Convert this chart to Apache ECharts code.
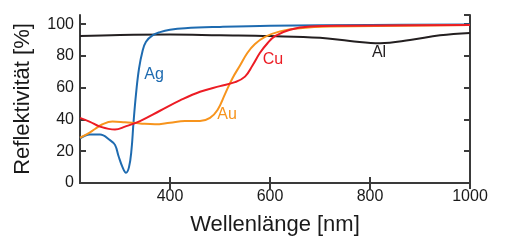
<!DOCTYPE html>
<html>
<head>
<meta charset="utf-8">
<script src="https://cdn.jsdelivr.net/npm/echarts@6/dist/echarts.min.js"></script>
<style>
  html, body { margin: 0; padding: 0; background: #fff; }
  #chart { width: 508px; height: 244px; }
</style>
</head>
<body>
<div id="chart"></div>
<script>
// wavelengths [nm] and reflectivity [%]
var agNm  = [220, 240, 260, 280, 290, 297, 305, 312, 318, 323, 327, 332, 338, 345, 352, 365, 380, 400, 430, 500, 600, 800, 1000];
var agVal = [28, 30.5, 30.5, 27, 24, 17, 10, 6.5, 10, 21, 38, 56, 72, 83, 89, 93, 95, 96.5, 97.5, 98.3, 99, 99.5, 99.8];

var auNm  = [220, 235, 250, 265, 285, 310, 340, 370, 400, 430, 460, 480, 495, 510, 525, 540, 555, 570, 590, 620, 660, 720, 1000];
var auVal = [28.5, 31, 34, 37, 38.7, 38.2, 37.5, 37, 38, 39, 39, 41, 46, 56, 66, 74, 82, 87.5, 92, 95.5, 97.5, 98.5, 99.5];

var cuNm  = [220, 240, 260, 290, 310, 340, 380, 420, 460, 500, 530, 550, 565, 580, 595, 610, 640, 680, 750, 1000];
var cuVal = [41, 38.5, 35.5, 33.7, 35.5, 39, 45.5, 52, 57.5, 61, 63.5, 67, 74, 82, 88, 92.5, 96.5, 98.5, 99, 99.5];

var alNm  = [220, 300, 400, 500, 600, 700, 760, 820, 880, 940, 1000];
var alVal = [92.5, 93.2, 93.5, 93, 92.5, 91.5, 89.5, 88, 90, 93, 94.5];

var xTicks = [400, 600, 800, 1000];

// label anchors [nm, %]
var labels = [
  { name: 'Ag', at: [368, 68] },
  { name: 'Au', at: [514, 43] },
  { name: 'Cu', at: [606, 78] },
  { name: 'Al', at: [818, 82] }
];

var colors = { Ag: '#1e6bb0', Au: '#f7941d', Cu: '#ec1c24', Al: '#231f20' };

function pairs(xs, ys) {
  return xs.map(function (x, i) { return [x, ys[i]]; });
}

function labelPoint(name) {
  var l = labels.filter(function (d) { return d.name === name; })[0];
  return {
    symbol: 'circle',
    symbolSize: 1,
    itemStyle: { color: 'rgba(0,0,0,0)' },
    label: { show: true, position: 'inside', formatter: name, color: colors[name], fontSize: 16, fontFamily: 'Liberation Sans' },
    data: [{ coord: l.at }]
  };
}

function lineSeries(name, xs, ys) {
  return {
    name: name,
    type: 'line',
    data: pairs(xs, ys),
    smooth: 0.4,
    showSymbol: false,
    lineStyle: { color: colors[name], width: 2 },
    animation: false,
    markPoint: labelPoint(name)
  };
}

var axisLine = { show: true, lineStyle: { color: '#3a3a3a', width: 2 } };
var tick = { show: true, inside: true, length: 6, lineStyle: { color: '#3a3a3a', width: 2 } };
var font = 'Liberation Sans';

var chart = echarts.init(document.getElementById('chart'));
chart.setOption({
  animation: false,
  grid: { left: 80, right: 38, top: 15, bottom: 61 },
  xAxis: [{
    type: 'value', min: 220, max: 1000,
    name: 'Wellenlänge [nm]', nameLocation: 'middle', nameGap: 31,
    nameTextStyle: { fontSize: 22, color: '#1a1a1a', fontFamily: font },
    axisLine: axisLine,
    axisTick: Object.assign({}, tick, { customValues: xTicks }),
    axisLabel: { customValues: xTicks, fontSize: 16, color: '#1a1a1a', fontFamily: font, margin: 6,
      formatter: function (v) { return String(v); } },
    splitLine: { show: false }
  }, {
    type: 'value', min: 220, max: 1000, position: 'top',
    axisLine: axisLine,
    axisTick: Object.assign({}, tick, { customValues: xTicks }),
    axisLabel: { show: false },
    splitLine: { show: false }
  }],
  yAxis: [{
    type: 'value', min: 0, max: 105.8, interval: 20,
    name: 'Reflektivität [%]', nameLocation: 'middle', nameGap: 46,
    nameTextStyle: { fontSize: 22, color: '#1a1a1a', fontFamily: font },
    axisLine: axisLine,
    axisTick: tick,
    axisLabel: { fontSize: 16, color: '#1a1a1a', fontFamily: font, margin: 6, showMaxLabel: false },
    splitLine: { show: false }
  }, {
    type: 'value', min: 0, max: 105.8, interval: 20, position: 'right',
    axisLine: axisLine,
    axisTick: tick,
    axisLabel: { show: false },
    splitLine: { show: false }
  }],
  series: [
    lineSeries('Al', alNm, alVal),
    lineSeries('Ag', agNm, agVal),
    lineSeries('Au', auNm, auVal),
    lineSeries('Cu', cuNm, cuVal)
  ]
});
</script>
</body>
</html>
